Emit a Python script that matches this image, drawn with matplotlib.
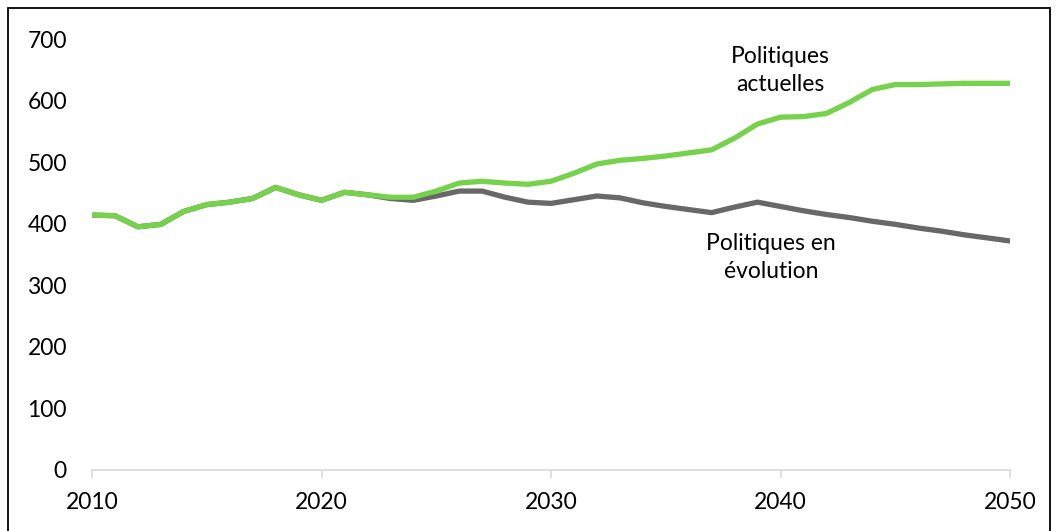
import matplotlib
matplotlib.use("Agg")
import matplotlib.pyplot as plt
from matplotlib.patches import Rectangle

years = list(range(2010, 2051))
actuelles = [414, 413, 395, 399, 420, 431, 435, 441, 459, 447, 438, 451, 447,
             443, 443, 453, 466, 469, 466, 464, 469, 482, 497, 503, 506, 510,
             515, 520, 539, 562, 573, 574, 579, 597, 618, 626, 626, 627, 628,
             628, 628]
evolution = [414, 413, 395, 399, 420, 431, 435, 441, 459, 447, 438, 451, 447,
             441, 438, 445, 453, 453, 443, 435, 433, 439, 445, 442, 434, 428,
             423, 418, 427, 435, 428, 421, 415, 410, 404, 399, 393, 388, 382,
             377, 372]
xticks = [2010, 2020, 2030, 2040, 2050]
yticks = [0, 100, 200, 300, 400, 500, 600, 700]
label_actuelles = "Politiques\nactuelles"
label_evolution = "Politiques en\névolution"

W, H = 1058, 531
fig = plt.figure(figsize=(W / 100, H / 100), dpi=100)
plt.rcParams['font.family'] = ['Lato', 'DejaVu Sans']
FS = 16.5

left, right, bottom, top = 92, 1010, 470, 39
ax = fig.add_axes([left / W, 1 - bottom / H, (right - left) / W, (bottom - top) / H])

ax.plot(years, evolution, color="#686868", lw=3.8, solid_capstyle="round", zorder=2)
ax.plot(years, actuelles, color="#76D14C", lw=3.8, solid_capstyle="round", zorder=3)

ax.set_xlim(2010, 2050)
ax.set_ylim(0, 700)
ax.set_xticks(xticks)
ax.set_yticks(yticks)
for s in ["top", "right", "left"]:
    ax.spines[s].set_visible(False)
ax.spines["bottom"].set_color("#D9D9D9")
ax.spines["bottom"].set_linewidth(1.2)
ax.tick_params(axis="x", direction="out", length=6, color="#D9D9D9", width=1.2,
               labelsize=FS, pad=10)
ax.tick_params(axis="y", length=0, labelsize=FS, pad=18)

ax.text(2040.0, 649, label_actuelles, ha="center", va="center", fontsize=FS,
        linespacing=1.45)
ax.text(2039.6, 345, label_evolution, ha="center", va="center", fontsize=FS,
        linespacing=1.45)

fig.patches.append(Rectangle((8 / W, -0.05), (1050 - 8) / W, 1.05 - 8 / H,
                             transform=fig.transFigure, fill=False,
                             edgecolor="black", lw=1.3))

fig.savefig("out.png", dpi=100)
